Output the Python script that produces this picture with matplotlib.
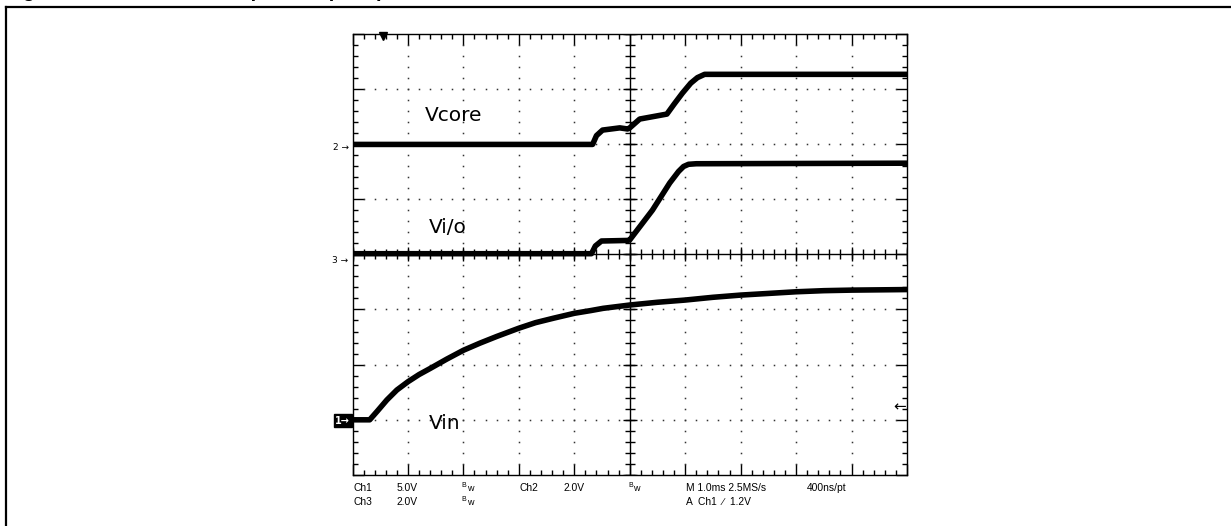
import numpy as np
import matplotlib
matplotlib.use("Agg")
import matplotlib.pyplot as plt
from matplotlib.lines import Line2D

# scope traces, in screen divisions (x: 0..10, y: 0..8 from bottom)
vcore_x = [0.0, 4.33, 4.40, 4.51, 4.82, 4.96, 5.0, 5.18, 5.67, 5.80, 5.95, 6.10, 6.22, 6.35, 10.0]
vcore_y = [5.99, 5.99, 6.15, 6.25, 6.29, 6.27, 6.29, 6.45, 6.54, 6.72, 6.92, 7.10, 7.20, 7.26, 7.26]

vio_x = [0.0, 4.31, 4.38, 4.49, 4.96, 5.0, 5.41, 5.72, 5.88, 5.97, 6.06, 6.2, 10.0]
vio_y = [4.01, 4.01, 4.15, 4.24, 4.25, 4.26, 4.80, 5.29, 5.50, 5.59, 5.63, 5.64, 5.65]

vin_x = [0.0, 0.31, 0.45, 0.62, 0.8, 1.0, 1.2, 1.40, 1.7, 2.0, 2.3, 2.6, 3.0, 3.3, 3.62,
         4.0, 4.3, 4.52, 5.0, 5.5, 6.0, 6.5, 7.0, 7.5, 8.0, 8.5, 9.0, 10.0]
vin_y = [1.0, 1.0, 1.16, 1.36, 1.54, 1.69, 1.82, 1.93, 2.10, 2.26, 2.39, 2.51, 2.66, 2.76, 2.84,
         2.93, 2.98, 3.02, 3.08, 3.13, 3.17, 3.22, 3.26, 3.29, 3.32, 3.34, 3.35, 3.36]

trace_names = ["Vcore", "Vi/o", "Vin"]
trace_label_pos = [(1.31, 6.51), (1.38, 4.49), (1.38, 0.94)]

# readout lines under the screen
readout_row1 = [("Ch1", 0.01), ("5.0V", 0.80), ("Ch2", 3.02), ("2.0V", 3.81),
                ("M 1.0ms 2.5MS/s", 6.01), ("400ns/pt", 8.19)]
readout_row2 = [("Ch3", 0.01), ("2.0V", 0.80), ("A  Ch1  \u2215  1.2V", 6.01)]
bw_row1 = [1.97, 4.97]
bw_row2 = [1.97]

W, H = 1231, 526
fig = plt.figure(figsize=(W / 100, H / 100), dpi=100)

# outer frame of the figure box (top and left edges visible)
fig.add_artist(Line2D([5.5 / W, 1.0], [1 - 6.5 / H, 1 - 6.5 / H], color="black", lw=1.6))
fig.add_artist(Line2D([5.5 / W, 5.5 / W], [1 - 6.5 / H, 0.0], color="black", lw=1.6))

# title, mostly cut off by the top of the image
fig.text(5 / W, 1 + 3.0 / H, "Figure 14. Vcore and Vi/o power-up sequence",
         fontsize=14.5, fontweight="bold", family="Liberation Sans",
         ha="left", va="baseline")

ax = fig.add_axes([352.5 / W, 1 - 475 / H, 554.5 / W, 441.5 / H])
ax.set_xlim(0, 10)
ax.set_ylim(0, 8)
for s in ax.spines.values():
    s.set_linewidth(1.0)
ax.set_xticks(np.arange(0, 11, 1))
ax.set_yticks(np.arange(0, 9, 1))
ax.set_xticks(np.arange(0, 10.01, 0.2), minor=True)
ax.set_yticks(np.arange(0, 8.01, 0.2), minor=True)
ax.tick_params(which="both", direction="in", top=True, right=True,
               labelbottom=False, labelleft=False, width=1.0)
ax.tick_params(which="major", length=8)
ax.tick_params(which="minor", length=3.6)

# dotted graticule
fine_x = np.arange(0, 10.01, 0.2)
fine_y = np.arange(0, 8.01, 0.2)
for gy in [1, 2, 3, 5, 6, 7]:
    ax.plot(fine_x[1:-1], np.full(len(fine_x) - 2, gy), ls="none", marker="s",
            ms=1.1, mew=0, color="#333333")
for gx in [1, 2, 3, 4, 6, 7, 8, 9]:
    ax.plot(np.full(len(fine_y) - 2, gx), fine_y[1:-1], ls="none", marker="s",
            ms=1.1, mew=0, color="#333333")

# center crosshair with ticks
ax.axvline(5, color="black", lw=1.0)
ax.axhline(4, color="black", lw=1.0)
ax.plot(fine_x, np.full(len(fine_x), 4), ls="none", marker="|", ms=7, mew=1.0, color="black")
ax.plot(np.full(len(fine_y), 5), fine_y, ls="none", marker="_", ms=7, mew=1.0, color="black")
ax.plot(np.arange(0, 11), np.full(11, 4), ls="none", marker="|", ms=10, mew=1.0, color="black")
ax.plot(np.full(9, 5), np.arange(0, 9), ls="none", marker="_", ms=10, mew=1.0, color="black")

# traces
for tx, ty in [(vcore_x, vcore_y), (vio_x, vio_y), (vin_x, vin_y)]:
    ax.plot(tx, ty, color="black", lw=4.0, solid_joinstyle="round", solid_capstyle="butt")

for name, (lx, ly) in zip(trace_names, trace_label_pos):
    ax.text(lx, ly, name, fontsize=14.5, family="DejaVu Sans", ha="left", va="center")

# channel markers on the left
ax.text(-0.07, 5.94, "2 \u2192", fontsize=6.5, ha="right", va="center", clip_on=False)
ax.text(-0.07, 3.89, "3 \u2192", fontsize=6.5, ha="right", va="center", clip_on=False)
ax.text(-0.04, 0.98, "1\u2192", fontsize=7, fontweight="bold", color="white",
        ha="right", va="center", clip_on=False,
        bbox=dict(boxstyle="square,pad=0.15", fc="black", ec="black"))
# trigger position and level
ax.plot([0.55], [7.955], marker="v", ms=6, color="black", clip_on=False)
ax.text(9.98, 1.24, "\u2190", fontsize=11, ha="right", va="center")

# readout text
for txt, rx in readout_row1:
    ax.text(rx, -0.235, txt, fontsize=7.4, family="Liberation Sans", ha="left",
            va="center", clip_on=False)
for txt, rx in readout_row2:
    ax.text(rx, -0.49, txt, fontsize=7.4, family="Liberation Sans", ha="left",
            va="center", clip_on=False)
for rx, ry in [(b, -0.235) for b in bw_row1] + [(b, -0.49) for b in bw_row2]:
    ax.text(rx, ry + 0.05, "B", fontsize=5, family="Liberation Sans", ha="left",
            va="center", clip_on=False)
    ax.text(rx + 0.09, ry - 0.01, "w", fontsize=6.5, family="Liberation Sans", ha="left",
            va="center", clip_on=False)

fig.savefig("out.png", dpi=100)
